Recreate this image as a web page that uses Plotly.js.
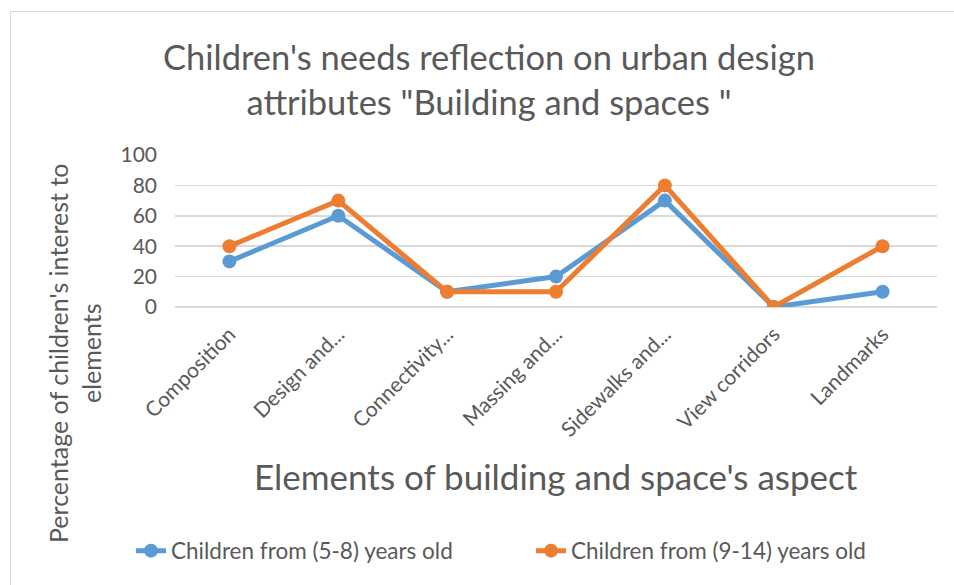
<!DOCTYPE html>
<html><head><meta charset="utf-8">
<script src="https://cdn.plot.ly/plotly-3.0.1.min.js"></script>
<style>
html,body{margin:0;padding:0;background:#fff;}
#wrap{position:relative;width:954px;height:585px;}
#chart{width:954px;height:585px;}
#frame{position:absolute;left:10px;top:11px;width:960px;height:600px;border:1.5px solid #D9D9D9;box-sizing:border-box;pointer-events:none;}
</style></head>
<body>
<div id="wrap"><div id="chart"></div><div id="frame"></div></div>
<script>
const categories = ["Composition","Design and...","Connectivity...","Massing and...","Sidewalks and...","View corridors","Landmarks"];
const series1Name = "Children from (5-8) years old";
const series1 = [30, 60, 10, 20, 70, 0, 10];
const series2Name = "Children from (9-14) years old";
const series2 = [40, 70, 10, 10, 80, 0, 40];
const yTicks = [0, 20, 40, 60, 80, 100];

const FONT = "Lato, sans-serif";
const GREY = "#595959";

// plot area in px: x 175..937, y 155..307
const PL = 175, PR = 937, PT = 155, PB = 307;
const px2x = p => (p - PL) / (PR - PL);
const px2y = p => (PB - p) / (PB - PT);

const traces = [
  {x: categories, y: series1, name: series1Name, type: "scatter", mode: "lines+markers", legend: "legend",
   line: {color: "#5B9BD5", width: 5}, marker: {color: "#5B9BD5", size: 14}},
  {x: categories, y: series2, name: series2Name, type: "scatter", mode: "lines+markers", legend: "legend2",
   line: {color: "#ED7D31", width: 5}, marker: {color: "#ED7D31", size: 14}}
];

const legendBase = {orientation: "h", xref: "container", xanchor: "left", yref: "container", yanchor: "middle",
                    y: 1 - 551/585, font: {size: 22.5, color: GREY, family: FONT}};

const layout = {
  width: 954, height: 585,
  margin: {l: PL, r: 954 - PR, t: PT, b: 585 - PB},
  paper_bgcolor: "#fff", plot_bgcolor: "#fff",
  font: {family: FONT, color: GREY},
  title: {text: "Children's needs reflection on urban design<br>attributes \"Building and spaces \"",
          xref: "container", yref: "container", x: 489/954, xanchor: "center",
          y: 1 - 70/585, yanchor: "middle", font: {family: FONT, size: 34.5, color: GREY}},
  xaxis: {type: "category", range: [-0.5, 6.5], tickangle: -45, showgrid: false,
          showline: false, ticks: "", tickfont: {size: 21, color: GREY}, fixedrange: true,
          ticklabelstandoff: 10},
  yaxis: {range: [0, 100], tickvals: yTicks, showgrid: true, gridcolor: "#D9D9D9", gridwidth: 1.5,
          zeroline: true, zerolinecolor: "#D9D9D9", zerolinewidth: 1.5, showline: false, ticks: "",
          tickfont: {size: 21, color: GREY}, ticklabelstandoff: 17},
  showlegend: true,
  legend: Object.assign({}, legendBase, {x: 131/954}),
  legend2: Object.assign({}, legendBase, {x: 531/954}),
  annotations: [
    {text: "Elements of building and space's aspect", xref: "paper", yref: "paper",
     x: 0.5, y: px2y(476), xanchor: "center", yanchor: "middle", showarrow: false,
     font: {size: 35, color: GREY, family: FONT}},
    {text: "Percentage of children's interest to<br>elements", xref: "paper", yref: "paper",
     x: px2x(74), y: px2y(353), xanchor: "center", yanchor: "middle", textangle: -90, showarrow: false,
     font: {size: 25, color: GREY, family: FONT}}
  ]
};

Plotly.newPlot("chart", traces, layout, {displayModeBar: false, staticPlot: true});
</script>
</body></html>
